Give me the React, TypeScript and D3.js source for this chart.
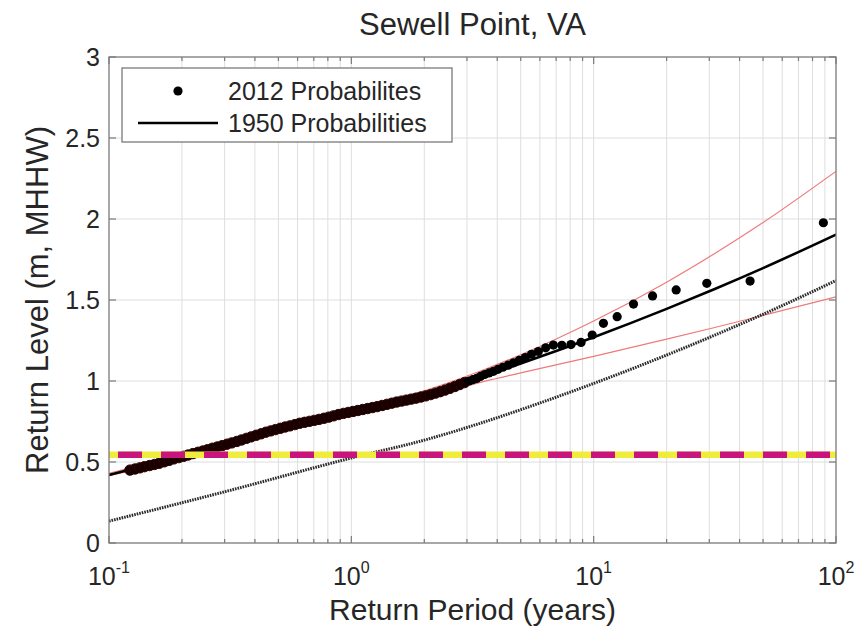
import React from 'react';
import * as d3 from 'd3';

// Fitted curves, read at these return periods (years)
const FIT_PERIODS = [0.1, 0.316, 1, 2, 3.5, 5, 10, 20, 31.6, 50, 100];
const FIT_LEVEL = [0.42, 0.61, 0.81, 0.92, 1.03, 1.108, 1.27, 1.445, 1.568, 1.697, 1.904];
const FIT_UPPER = [0.43, 0.62, 0.82, 0.94, 1.068, 1.162, 1.37, 1.61, 1.787, 1.978, 2.294];
const FIT_LOWER = [0.415, 0.6, 0.8, 0.9, 0.996, 1.05, 1.152, 1.258, 1.33, 1.405, 1.52];
const FIT_1950 = [0.135, 0.325, 0.525, 0.635, 0.745, 0.823, 0.985, 1.16, 1.283, 1.412, 1.62];

// 2012 empirical points (return period, level)
const PERIODS_2012 = [
  0.122, 0.128, 0.134, 0.14, 0.147, 0.154, 0.161, 0.169, 0.177, 0.185,
  0.194, 0.203, 0.212, 0.222, 0.233, 0.244, 0.255, 0.267, 0.28, 0.293,
  0.307, 0.321, 0.337, 0.352, 0.369, 0.386, 0.405, 0.424, 0.444, 0.465,
  0.486, 0.509, 0.533, 0.558, 0.585, 0.612, 0.641, 0.671, 0.703, 0.736,
  0.771, 0.807, 0.845, 0.885, 0.927, 0.971, 1.016, 1.064, 1.114, 1.167,
  1.222, 1.279, 1.34, 1.403, 1.469, 1.538, 1.611, 1.687, 1.766, 1.849,
  1.936, 2.028, 2.123, 2.223, 2.328, 2.438, 2.553, 2.673, 2.799, 2.931,
  3.06, 3.17, 3.29, 3.41, 3.55, 3.7, 3.86, 4.03, 4.22, 4.44,
  4.67, 4.93, 5.22, 5.54, 5.91, 6.34, 6.82, 7.39, 8.06, 8.87,
  9.86, 10.97, 12.5, 14.6, 17.5, 21.9, 29.3, 44.2, 88.7,
];
const LEVELS_2012 = [
  0.45, 0.457, 0.464, 0.471, 0.478, 0.485, 0.492, 0.501, 0.51, 0.519,
  0.527, 0.535, 0.543, 0.552, 0.56, 0.568, 0.576, 0.585, 0.593, 0.601,
  0.61, 0.618, 0.627, 0.636, 0.646, 0.655, 0.665, 0.674, 0.684, 0.692,
  0.7, 0.708, 0.716, 0.723, 0.731, 0.739, 0.745, 0.751, 0.757, 0.763,
  0.77, 0.777, 0.785, 0.793, 0.8, 0.806, 0.812, 0.818, 0.824, 0.83,
  0.836, 0.842, 0.849, 0.856, 0.863, 0.87, 0.876, 0.882, 0.888, 0.894,
  0.901, 0.908, 0.916, 0.925, 0.934, 0.944, 0.955, 0.966, 0.978, 0.99,
  1.0, 1.008, 1.016, 1.028, 1.04, 1.05, 1.06, 1.072, 1.085, 1.098,
  1.112, 1.128, 1.145, 1.165, 1.182, 1.205, 1.222, 1.22, 1.225, 1.238,
  1.284, 1.356, 1.397, 1.475, 1.525, 1.562, 1.603, 1.617, 1.977,
];

const THRESHOLD = 0.545;
const Y_TICKS = [0, 0.5, 1, 1.5, 2, 2.5, 3];
const X_DECADES = [0.1, 1, 10, 100];
const X_EXPONENTS = ['-1', '0', '1', '2'];

const W = 863;
const H = 631;
const M = { left: 109, right: 27, top: 57, bottom: 88 };
const FONT = '"Liberation Sans", Arial, Helvetica, sans-serif';

export default function App() {
  const x = d3.scaleLog().domain([0.1, 100]).range([M.left, W - M.right]);
  const y = d3.scaleLinear().domain([0, 3]).range([H - M.bottom, M.top]);
  const [x0, x1] = x.range();
  const [yb, yt] = y.range();

  const minor: number[] = [];
  X_DECADES.slice(0, 3).forEach(d => {
    for (let k = 2; k <= 9; k++) minor.push(d * k);
  });

  const line = d3.line<[number, number]>()
    .x(d => x(d[0]))
    .y(d => y(d[1]))
    .curve(d3.curveMonotoneX);
  const pairs = (vals: number[]) => FIT_PERIODS.map((p, i) => [p, vals[i]] as [number, number]);

  const dots = PERIODS_2012.map((p, i) => ({ p, v: LEVELS_2012[i] }));

  return (
    <div style={{ position: 'fixed', left: 0, top: 0 }}>
      <svg width={W} height={H} style={{ display: 'block', background: '#fff', fontFamily: FONT }}>
        <defs>
          <clipPath id="plot">
            <rect x={x0} y={yt} width={x1 - x0} height={yb - yt} />
          </clipPath>
        </defs>

        {/* grid */}
        <g stroke="#dedede" strokeWidth={1}>
          {[...minor, ...X_DECADES.slice(1, 3)].map(t => (
            <line key={'gx' + t} x1={x(t)} x2={x(t)} y1={yt} y2={yb} />
          ))}
          {Y_TICKS.slice(1, -1).map(t => (
            <line key={'gy' + t} x1={x0} x2={x1} y1={y(t)} y2={y(t)} />
          ))}
        </g>

        <g clipPath="url(#plot)" fill="none">
          <path d={line(pairs(FIT_UPPER)) || ''} stroke="#f07a7a" strokeWidth={1.2} />
          <path d={line(pairs(FIT_LOWER)) || ''} stroke="#f07a7a" strokeWidth={1.2} />
          <path d={line(pairs(FIT_1950)) || ''} stroke="#2a2a2a" strokeWidth={3} strokeDasharray="1.6 1" />
          <path d={line(pairs(FIT_LEVEL)) || ''} stroke="#000" strokeWidth={2.6} />
          {dots.map((d, i) => (
            <circle key={i} cx={x(d.p)} cy={y(d.v)} r={d.p < 3 ? 5.2 : 4.6}
              fill={d.p < 3 ? '#160000' : '#000'} stroke={d.p < 3 ? '#2e0202' : 'none'} strokeWidth={1} />
          ))}
          <line x1={x0} x2={x1} y1={y(THRESHOLD)} y2={y(THRESHOLD)} stroke="#f0ec3c" strokeWidth={6.5} />
          <line x1={x0} x2={x1} y1={y(THRESHOLD)} y2={y(THRESHOLD)} stroke="#c8147c" strokeWidth={6.5}
            strokeDasharray="24 19" strokeDashoffset={34} />
        </g>

        {/* axes box and ticks */}
        <rect x={x0} y={yt} width={x1 - x0} height={yb - yt} fill="none" stroke="#7a7a7a" strokeWidth={1.3} />
        <g stroke="#7a7a7a" strokeWidth={1.2}>
          {Y_TICKS.map(t => (
            <g key={'ty' + t}>
              <line x1={x0} x2={x0 + 7} y1={y(t)} y2={y(t)} />
              <line x1={x1} x2={x1 - 7} y1={y(t)} y2={y(t)} />
            </g>
          ))}
          {X_DECADES.map(t => (
            <g key={'tx' + t}>
              <line x1={x(t)} x2={x(t)} y1={yb} y2={yb - 7} />
              <line x1={x(t)} x2={x(t)} y1={yt} y2={yt + 7} />
            </g>
          ))}
          {minor.map(t => (
            <g key={'tm' + t}>
              <line x1={x(t)} x2={x(t)} y1={yb} y2={yb - 4} />
              <line x1={x(t)} x2={x(t)} y1={yt} y2={yt + 4} />
            </g>
          ))}
        </g>

        {/* tick labels */}
        <g fill="#262626" fontSize={25}>
          {Y_TICKS.map(t => (
            <text key={'ly' + t} x={x0 - 9} y={y(t)} dy="0.35em" textAnchor="end">{t}</text>
          ))}
          {X_DECADES.map((t, i) => (
            <text key={'lx' + t} x={x(t)} y={yb + 42} textAnchor="middle">
              <tspan>10</tspan>
              <tspan dy={-12} fontSize={16}>{X_EXPONENTS[i]}</tspan>
            </text>
          ))}
        </g>

        {/* labels */}
        <text x={(x0 + x1) / 2} y={35} textAnchor="middle" fontSize={31} fill="#262626">Sewell Point, VA</text>
        <text x={(x0 + x1) / 2} y={620} textAnchor="middle" fontSize={30} fill="#262626">Return Period (years)</text>
        <text transform={`translate(48, ${(yt + yb) / 2}) rotate(-90)`} textAnchor="middle" fontSize={31} fill="#262626">
          Return Level (m, MHHW)
        </text>

        {/* legend */}
        <g>
          <rect x={122} y={68} width={330} height={74} fill="#fff" stroke="#7a7a7a" strokeWidth={1.3} />
          <circle cx={178} cy={91} r={4.6} fill="#000" />
          <line x1={138} x2={218} y1={123} y2={123} stroke="#000" strokeWidth={2.6} />
          <text x={228} y={91} dy="0.35em" fontSize={25} fill="#262626">2012 Probabilites</text>
          <text x={228} y={123} dy="0.35em" fontSize={25} fill="#262626">1950 Probabilities</text>
        </g>
      </svg>
    </div>
  );
}
